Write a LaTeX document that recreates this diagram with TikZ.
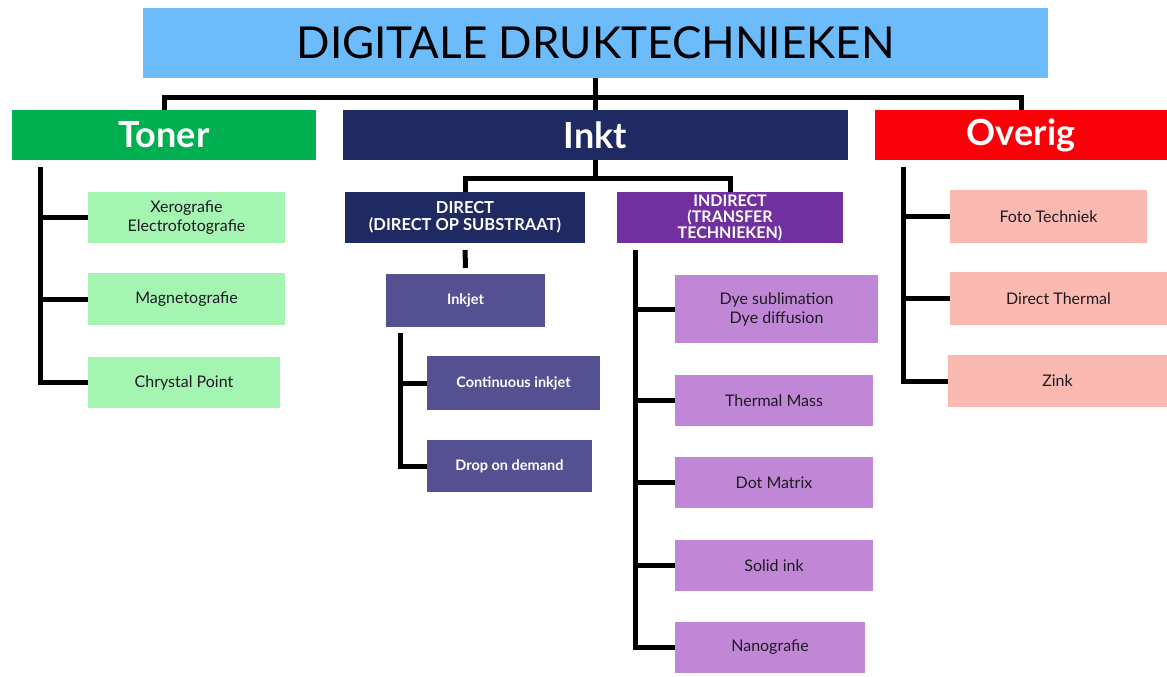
\documentclass[tikz,border=0pt]{standalone}
\usepackage{fontspec}
\setmainfont{Lato}
\definecolor{titleblue}{RGB}{108,188,252}
\definecolor{tonergreen}{RGB}{0,176,80}
\definecolor{navy}{RGB}{32,42,98}
\definecolor{ovred}{RGB}{250,0,8}
\definecolor{lightgreen}{RGB}{165,245,178}
\definecolor{inkjetc}{RGB}{84,80,146}
\definecolor{indpurple}{RGB}{112,48,160}
\definecolor{lightpurple}{RGB}{192,135,214}
\definecolor{pinkc}{RGB}{250,186,178}
\definecolor{darktext}{RGB}{30,25,35}
\tikzset{
  box/.style={rectangle, inner sep=0pt, outer sep=0pt, align=center},
  headbox/.style={box, text=white, font=\fontsize{36}{40}\selectfont\bfseries, minimum height=50pt},
  subbox/.style={box, text=white, font=\fontsize{16.5}{17.5}\selectfont\bfseries, minimum height=51pt},
  leafbox/.style={box, text=darktext, font=\fontsize{16}{19}\selectfont},
  jetbox/.style={box, fill=inkjetc, text=white, font=\fontsize{14.5}{17}\selectfont\bfseries},
  conn/.style={line width=5pt, line join=miter, line cap=butt}
}
\begin{document}
\begin{tikzpicture}[x=1pt,y=-1pt]
\useasboundingbox[fill=white] (0,0) rectangle (1167,677);
% title
\node[box, fill=titleblue, minimum width=905pt, minimum height=70pt, font=\fontsize{44}{48}\selectfont] (title) at (595.5,43) {DIGITALE DRUKTECHNIEKEN};
% heads
\node[headbox, fill=tonergreen, minimum width=304pt] (toner) at (164,135) {Toner};
\node[headbox, fill=navy, minimum width=505pt] (inkt) at (595.5,135) {Inkt};
\node[headbox, fill=ovred, minimum width=292pt] (overig) at (1021,135) {Overig};
% toner leaves
\node[leafbox, fill=lightgreen, minimum width=197pt, minimum height=51pt] (xero) at (186.5,217.5) {Xerografie\\Electrofotografie};
\node[leafbox, fill=lightgreen, minimum width=197pt, minimum height=52pt] (magn) at (186.5,299) {Magnetografie};
\node[leafbox, fill=lightgreen, minimum width=192pt, minimum height=51pt] (chry) at (184,382.5) {Chrystal Point};
% inkt subs
\node[subbox, fill=navy, minimum width=240pt] (direct) at (465,217.5) {DIRECT\\(DIRECT OP SUBSTRAAT)};
\node[subbox, fill=indpurple, minimum width=226pt, font=\fontsize{16}{16}\selectfont\bfseries] (indirect) at (730,217.5) {INDIRECT\\(TRANSFER\\TECHNIEKEN)};
\node[jetbox, minimum width=159pt, minimum height=53pt] (inkjet) at (465.5,300.5) {Inkjet};
\node[jetbox, minimum width=173pt, minimum height=54pt] (cont) at (513.5,383) {Continuous inkjet};
\node[jetbox, minimum width=165pt, minimum height=52pt] (drop) at (509.5,466) {Drop on demand};
% indirect leaves
\node[leafbox, fill=lightpurple, minimum width=203pt, minimum height=68pt] (dye) at (776.5,309) {Dye sublimation\\Dye diffusion};
\node[leafbox, fill=lightpurple, minimum width=198pt, minimum height=51pt] (therm) at (774,400.5) {Thermal Mass};
\node[leafbox, fill=lightpurple, minimum width=198pt, minimum height=51pt] (dot) at (774,482.5) {Dot Matrix};
\node[leafbox, fill=lightpurple, minimum width=198pt, minimum height=51pt] (solid) at (774,565.5) {Solid ink};
\node[leafbox, fill=lightpurple, minimum width=190pt, minimum height=51pt] (nano) at (770,647.5) {Nanografie};
% overig leaves
\node[leafbox, fill=pinkc, minimum width=197pt, minimum height=53pt] (foto) at (1048.5,216.5) {Foto Techniek};
\node[leafbox, fill=pinkc, minimum width=217pt, minimum height=53pt] (dtherm) at (1058.5,298.5) {Direct Thermal};
\node[leafbox, fill=pinkc, minimum width=219pt, minimum height=52pt] (zink) at (1057.5,381) {Zink};
% bus coordinates
\coordinate (bus) at (595.5,97);
\coordinate (ibus) at (595.5,178);
\coordinate (tv) at (40,167);
\coordinate (jv) at (400,333);
\coordinate (dv) at (635,250);
\coordinate (ov) at (903,167);
% connectors
\draw[conn] (title.south) -- (inkt.north);
\draw[conn] (toner.north) |- (bus) -| (overig.north);
\draw[conn] (inkt.south) -- (ibus);
\draw[conn] (direct.north) |- (ibus) -| (indirect.north);
\draw[conn, shorten <=7pt, shorten >=6pt] (direct.south) -- (inkjet.north);
\draw[conn] (tv) |- (xero.west);
\draw[conn] (tv) |- (magn.west);
\draw[conn] (tv) |- (chry.west);
\draw[conn] (jv) |- (cont.west);
\draw[conn] (jv) |- (drop.west);
\draw[conn] (dv) |- (dye.west);
\draw[conn] (dv) |- (therm.west);
\draw[conn] (dv) |- (dot.west);
\draw[conn] (dv) |- (solid.west);
\draw[conn] (dv) |- (nano.west);
\draw[conn] (ov) |- (foto.west);
\draw[conn] (ov) |- (dtherm.west);
\draw[conn] (ov) |- (zink.west);
\end{tikzpicture}
\end{document}
